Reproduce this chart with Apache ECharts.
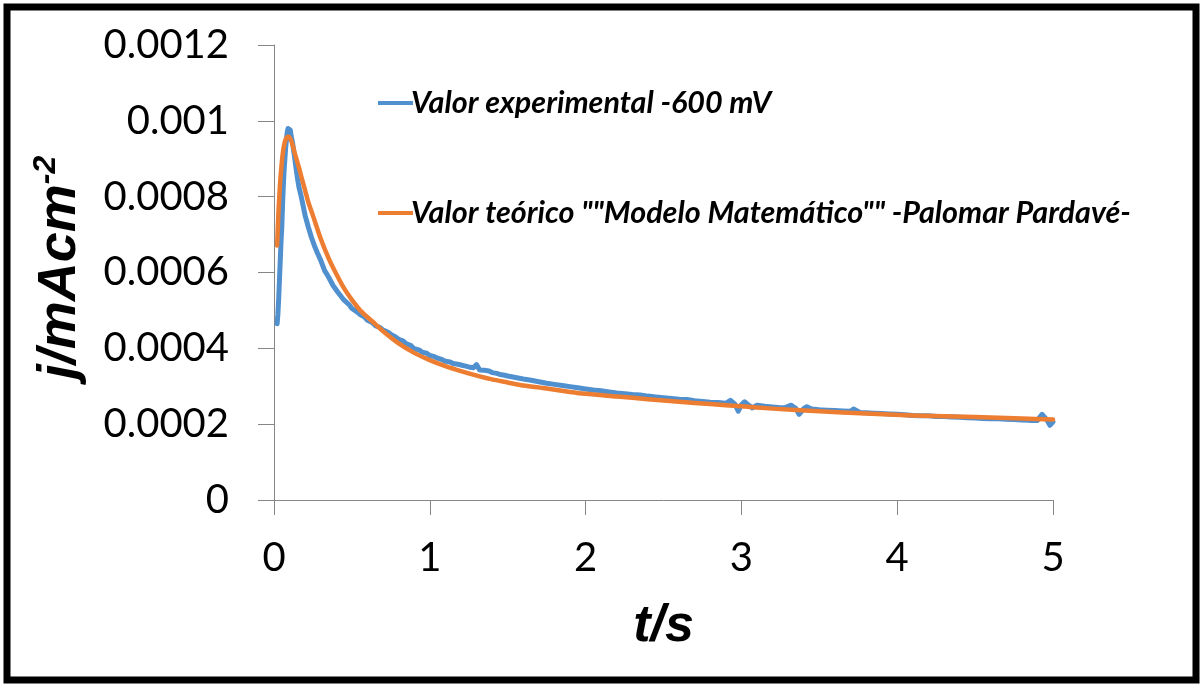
<!DOCTYPE html>
<html>
<head>
<meta charset="utf-8">
<script src="https://cdn.jsdelivr.net/npm/echarts@6/dist/echarts.min.js"></script>
<style>
html,body{margin:0;padding:0;background:#fff;}
#c{width:1204px;height:684px;}
</style>
</head>
<body>
<div id="c"></div>
<script>
// Experimental current transient (t in s, j in mA cm^-2)
const expT = [0.02,0.025,0.03,0.035,0.04,0.045,0.05,0.055,0.06,0.065,0.07,0.075,0.08,0.085,0.09,0.095,0.1,0.105,0.11,0.115,0.12,0.13,0.14,0.15,0.16,0.175,0.19,0.2,0.22,0.24,0.26,0.28,0.3,0.325,0.35,0.38,0.41,0.45,0.48,0.5,0.53,0.55,0.58,0.6,0.63,0.65,0.68,0.7,0.73,0.75,0.78,0.8,0.83,0.85,0.88,0.9,0.93,0.95,0.98,1.0,1.03,1.05,1.08,1.1,1.13,1.15,1.18,1.2,1.23,1.25,1.28,1.3,1.32,1.35,1.38,1.4,1.43,1.45,1.48,1.5,1.55,1.6,1.65,1.7,1.75,1.8,1.85,1.9,1.95,2.0,2.05,2.1,2.15,2.2,2.25,2.3,2.35,2.4,2.45,2.5,2.55,2.6,2.65,2.7,2.75,2.8,2.85,2.9,2.93,2.96,2.98,3.0,3.02,3.05,3.07,3.1,3.15,3.2,3.25,3.28,3.32,3.35,3.37,3.4,3.42,3.45,3.5,3.55,3.6,3.65,3.7,3.72,3.76,3.8,3.85,3.9,3.95,4.0,4.05,4.1,4.15,4.2,4.25,4.3,4.35,4.4,4.45,4.5,4.55,4.6,4.65,4.7,4.75,4.8,4.85,4.9,4.93,4.96,4.98,5.0];
const expJ = [0.000465,0.00049,0.00053,0.00058,0.00063,0.00068,0.00072,0.00078,0.00083,0.00087,0.0009,0.00093,0.00095,0.00097,0.00098,0.000985,0.000984,0.000975,0.00096,0.00095,0.00094,0.00091,0.00088,0.00085,0.000825,0.0008,0.00077,0.00075,0.00072,0.000693,0.00067,0.00065,0.000632,0.000605,0.000588,0.000565,0.000548,0.000527,0.000516,0.000505,0.000497,0.00049,0.000483,0.000474,0.000468,0.00046,0.000455,0.000448,0.000443,0.000437,0.00043,0.000424,0.000419,0.000412,0.000407,0.000399,0.000396,0.00039,0.000387,0.000381,0.000378,0.000374,0.00037,0.000366,0.000364,0.00036,0.000358,0.000356,0.000353,0.000351,0.000349,0.000357,0.000343,0.000342,0.00034,0.000336,0.000334,0.000331,0.000329,0.000327,0.000323,0.000319,0.000316,0.000312,0.000308,0.000305,0.000302,0.000299,0.000296,0.000293,0.00029,0.000288,0.000285,0.000282,0.00028,0.000278,0.000277,0.000274,0.000272,0.00027,0.000268,0.000266,0.000265,0.000262,0.00026,0.000258,0.000257,0.000255,0.000263,0.000252,0.000234,0.000251,0.000259,0.000249,0.000243,0.00025,0.000247,0.000245,0.000243,0.000244,0.00025,0.000241,0.000226,0.000241,0.000246,0.00024,0.000238,0.000237,0.000236,0.000235,0.000234,0.00024,0.000231,0.00023,0.000229,0.000228,0.000227,0.000226,0.000225,0.000223,0.000222,0.000222,0.00022,0.00022,0.000219,0.000218,0.000217,0.000216,0.000215,0.000214,0.000214,0.000213,0.000212,0.000211,0.00021,0.00021,0.000226,0.000212,0.000197,0.000206];

// Theoretical model (Palomar-Pardavé)
const teoT = [0.02,0.03,0.04,0.05,0.06,0.07,0.08,0.09,0.1,0.11,0.12,0.14,0.16,0.18,0.2,0.22,0.25,0.3,0.35,0.4,0.45,0.5,0.55,0.6,0.65,0.7,0.8,0.9,1.0,1.1,1.2,1.32,1.4,1.5,1.6,1.75,1.9,2.0,2.2,2.4,2.6,2.8,3.0,3.2,3.5,3.8,4.1,4.5,4.8,5.0];
const teoJ = [0.000671,0.00077,0.00084,0.00089,0.000925,0.000945,0.000955,0.000959,0.000956,0.000948,0.000935,0.000905,0.000877,0.000846,0.000816,0.000786,0.00075,0.000689,0.000638,0.000596,0.000558,0.000528,0.000502,0.000482,0.000464,0.000445,0.000413,0.000388,0.000369,0.000353,0.00034,0.000326,0.000318,0.00031,0.000302,0.000294,0.000285,0.00028,0.000273,0.000266,0.000259,0.000253,0.000247,0.000241,0.000234,0.000228,0.000223,0.000219,0.000215,0.000212];

const yTicks = [0, 0.0002, 0.0004, 0.0006, 0.0008, 0.001, 0.0012];
const xTicks = [0, 1, 2, 3, 4, 5];
const seriesNames = ['Valor experimental -600 mV', 'Valor teórico ""Modelo Matemático"" -Palomar Pardavé-'];

const expData = expT.map((t, i) => [t, expJ[i]]);
const teoData = teoT.map((t, i) => [t, teoJ[i]]);

const chart = echarts.init(document.getElementById('c'), null, {renderer: 'canvas'});
const axisGray = '#868686';
chart.setOption({
  animation: false,
  backgroundColor: '#fff',
  graphic: [{
    type: 'rect', shape: {x: 7, y: 7, width: 1189, height: 673},
    style: {fill: 'none', stroke: '#000', lineWidth: 7}, silent: true, z: 100
  }],
  grid: {left: 274, right: 151, top: 45, bottom: 184, containLabel: false},
  legend: {
    orient: 'vertical', left: 373, top: 83, itemGap: 80,
    icon: 'rect', itemWidth: 35, itemHeight: 4,
    textStyle: {fontFamily: 'Lato', fontStyle: 'italic', fontWeight: 'bold', fontSize: 30.5, color: '#000', padding: [0,0,0,-7]},
    data: seriesNames
  },
  xAxis: {
    type: 'value', min: 0, max: 5, interval: 1,
    axisLine: {show: true, onZero: false, lineStyle: {color: axisGray, width: 1}},
    axisTick: {show: true, length: 15, lineStyle: {color: axisGray}},
    splitLine: {show: false},
    axisLabel: {fontFamily: 'Lato', fontSize: 40, color: '#000', margin: 38,
      formatter: v => xTicks.includes(v) ? String(v) : ''},
    name: 't/s', nameLocation: 'middle', nameGap: 101,
    nameTextStyle: {fontFamily: 'Liberation Sans', fontStyle: 'italic', fontWeight: 'bold', fontSize: 52, color: '#000'}
  },
  yAxis: {
    type: 'value', min: 0, max: 0.0012, interval: 0.0002,
    axisLine: {show: true, lineStyle: {color: axisGray, width: 1}},
    axisTick: {show: true, length: 16, lineStyle: {color: axisGray}},
    splitLine: {show: false},
    axisLabel: {fontFamily: 'Lato', fontSize: 40, color: '#000', margin: 45,
      formatter: v => { const k = yTicks.findIndex(t => Math.abs(t - v) < 1e-12); return k < 0 ? '' : String(yTicks[k]); }},
    name: '{a|j/mAcm}{b|-2}', nameLocation: 'middle', nameGap: 184, nameRotate: 90,
    nameTextStyle: {
      padding: [0, 0, 0, 10],
      rich: {
        a: {fontFamily: 'Liberation Sans', fontStyle: 'italic', fontWeight: 'bold', fontSize: 54, color: '#000', lineHeight: 60},
        b: {fontFamily: 'Liberation Sans', fontStyle: 'italic', fontWeight: 'bold', fontSize: 32, color: '#000', lineHeight: 60, verticalAlign: 'top', padding: [0,0,22,0]}
      }
    }
  },
  series: [
    {name: seriesNames[0], type: 'line', data: expData, showSymbol: false, symbol: 'none',
      lineStyle: {color: '#5090cf', width: 5, join: 'round', cap: 'round'}, itemStyle: {color: '#5090cf'}, z: 2},
    {name: seriesNames[1], type: 'line', data: teoData, showSymbol: false, symbol: 'none', smooth: 0.3,
      lineStyle: {color: '#ed7d31', width: 4.5, join: 'round', cap: 'round'}, itemStyle: {color: '#ed7d31'}, z: 3}
  ]
});
</script>
</body>
</html>
